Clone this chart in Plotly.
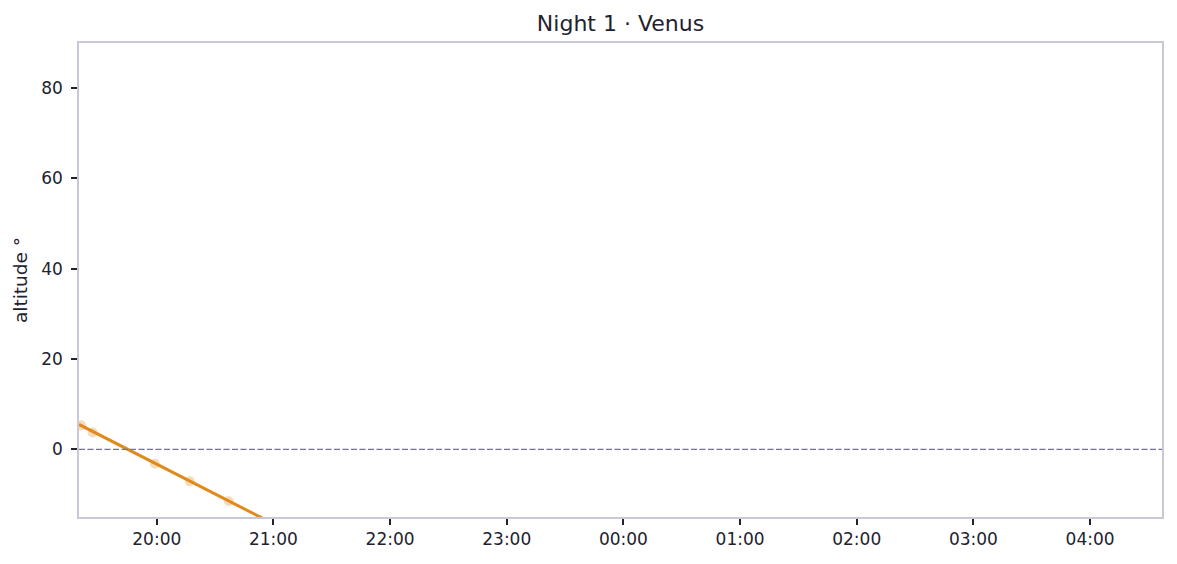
import plotly.graph_objects as go
import pandas as pd

# Venus altitude, night 1 (times local)
curve_times = ["2024-01-01 19:20", "2024-01-01 19:45", "2024-01-01 20:00",
               "2024-01-01 20:30", "2024-01-01 21:00", "2024-01-01 21:30"]
curve_alt = [5.5, 0.0, -3.2, -9.9, -16.5, -22.8]

obs_times = ["2024-01-01 19:21", "2024-01-01 19:27", "2024-01-01 19:59",
             "2024-01-01 20:17", "2024-01-01 20:37"]
obs_alt = [5.3, 3.7, -3.2, -7.1, -11.5]

x_range = ["2024-01-01 19:20", "2024-01-02 04:37"]
y_range = [-15, 90]

ink = "#22222e"
frame = "#c8c8d6"
orange = "#e08a1c"

fig = go.Figure()

fig.add_trace(go.Scatter(x=pd.to_datetime(obs_times), y=obs_alt, mode="markers",
                         marker=dict(color=orange, size=10, opacity=0.3),
                         showlegend=False, hoverinfo="skip"))
fig.add_trace(go.Scatter(x=pd.to_datetime(curve_times), y=curve_alt, mode="lines",
                         line=dict(color=orange, width=3), showlegend=False))

fig.add_hline(y=0, line=dict(color="#737396", width=1.3, dash="6px,2.5px"))

# page body adds 8px on each side, so the figure is 1161x548
fig.update_layout(
    width=1161, height=548,
    margin=dict(l=71, r=5, t=35, b=39),
    paper_bgcolor="white", plot_bgcolor="white",
    font=dict(family="DejaVu Sans", size=17, color=ink),
    title=dict(text="Night 1 · Venus", x=0.5, xref="paper", xanchor="center",
               y=1 - 15 / 548, yref="container", yanchor="middle",
               font=dict(size=22, color=ink)),
)
fig.update_xaxes(range=pd.to_datetime(x_range), tickformat="%H:%M", dtick=3600000,
                 showgrid=False, zeroline=False,
                 showline=True, linecolor=frame, linewidth=1.5, mirror=True,
                 ticks="outside", ticklen=6, tickwidth=1.5, tickcolor=ink)
fig.update_yaxes(range=y_range, dtick=20, showgrid=False, zeroline=False,
                 showline=True, linecolor=frame, linewidth=1.5, mirror=True,
                 ticks="outside", ticklen=6, tickwidth=1.5, tickcolor=ink,
                 ticklabelstandoff=5,
                 title=dict(text="altitude °", standoff=9, font=dict(size=18.5)))

fig.write_html("out.html")
